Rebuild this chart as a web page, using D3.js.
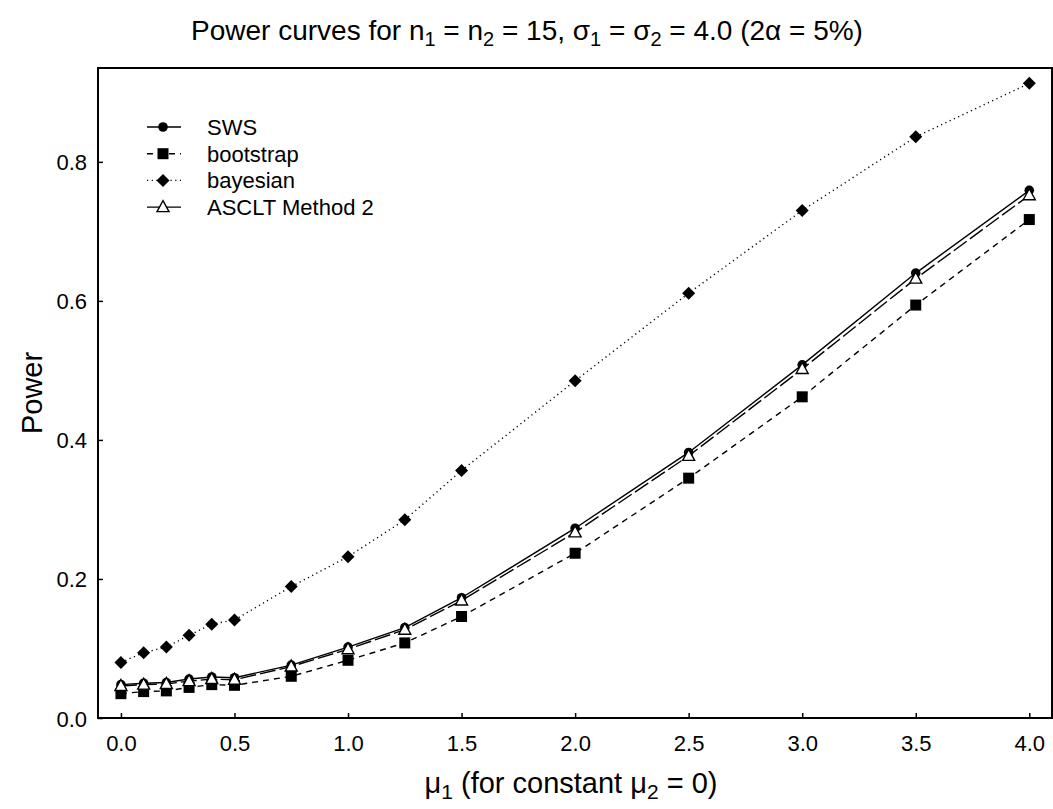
<!DOCTYPE html>
<html>
<head>
<meta charset="utf-8">
<script src="https://cdn.jsdelivr.net/npm/d3@7"></script>
<style>
body { margin: 0; background: #fff; }
svg { font-family: "Liberation Sans", Arial, sans-serif; display: block; }
</style>
</head>
<body>
<svg width="1053" height="809"></svg>
<script>
const mu1 = [0, 0.1, 0.2, 0.3, 0.4, 0.5, 0.75, 1.0, 1.25, 1.5, 2.0, 2.5, 3.0, 3.5, 4.0]
const sws = [0.048, 0.050, 0.051, 0.056, 0.059, 0.058, 0.076, 0.102, 0.130, 0.173, 0.273, 0.382, 0.508, 0.640, 0.759]
const bootstrap = [0.035, 0.038, 0.039, 0.044, 0.048, 0.047, 0.060, 0.083, 0.108, 0.146, 0.237, 0.345, 0.462, 0.594, 0.717]
const bayesian = [0.080, 0.094, 0.102, 0.119, 0.135, 0.141, 0.189, 0.232, 0.285, 0.356, 0.485, 0.611, 0.730, 0.836, 0.913]
const asclt = [0.046, 0.048, 0.049, 0.053, 0.056, 0.055, 0.074, 0.099, 0.127, 0.169, 0.267, 0.377, 0.502, 0.632, 0.752]
const xTicks = [0, 0.5, 1.0, 1.5, 2.0, 2.5, 3.0, 3.5, 4.0]
const yTicks = [0, 0.2, 0.4, 0.6, 0.8]

const series = [
	{name: 'SWS', values: sws, dash: null, marker: 'circle'},
	{name: 'bootstrap', values: bootstrap, dash: '6,5', marker: 'square'},
	{name: 'bayesian', values: bayesian, dash: '1.2,3.5', marker: 'diamond'},
	{name: 'ASCLT Method 2', values: asclt, dash: '16,4', marker: 'triangle'}
]

const svg = d3.select('svg')
const margin = {top: 68, right: 1, bottom: 91, left: 98}
const width = +svg.attr('width')
const height = +svg.attr('height')
const innerWidth = width - margin.left - margin.right
const innerHeight = height - margin.top - margin.bottom

const xScale = d3.scaleLinear()
	.domain([-0.101, 4.1])
	.range([0, innerWidth])

const yScale = d3.scaleLinear()
	.domain([0, 0.935])
	.range([innerHeight, 0])

const g = svg.append('g')
	.attr('transform', `translate(${margin.left}, ${margin.top})`)

// frame
g.append('rect')
	.attr('width', innerWidth)
	.attr('height', innerHeight)
	.attr('fill', 'none')
	.attr('stroke', '#000')
	.attr('stroke-width', 2)

const xAxis = d3.axisBottom(xScale)
	.tickValues(xTicks)
	.tickFormat(d3.format('.1f'))
	.tickSizeInner(-5)
	.tickSizeOuter(0)
	.tickPadding(17)

const yAxis = d3.axisLeft(yScale)
	.tickValues(yTicks)
	.tickFormat(d3.format('.1f'))
	.tickSizeInner(-5)
	.tickSizeOuter(0)
	.tickPadding(11)

const xg = g.append('g').call(xAxis)
	.attr('transform', `translate(0, ${innerHeight})`)
const yg = g.append('g').call(yAxis)

;[xg, yg].forEach(a => {
	a.select('.domain').remove()
	a.selectAll('line').attr('stroke', '#000').attr('stroke-width', 1.5)
	a.selectAll('text').attr('font-size', 22).attr('fill', '#000')
		.attr('font-family', '"Liberation Sans", Arial, sans-serif')
})
// fixed baselines instead of em offsets
xg.selectAll('text').attr('dy', null).attr('y', 33)
yg.selectAll('text').attr('dy', null).attr('y', 8)

const line = vals => d3.line()
	.x((d, i) => xScale(mu1[i]))
	.y(d => yScale(d))(vals)

series.forEach(s => {
	g.append('path')
		.attr('d', line(s.values))
		.attr('fill', 'none')
		.attr('stroke', '#000')
		.attr('stroke-width', 1.4)
		.attr('stroke-dasharray', s.dash)
})

const drawMarker = (sel, type, x, y) => {
	if (type === 'circle') {
		sel.append('circle').attr('cx', x).attr('cy', y).attr('r', 4.8).attr('fill', '#000')
	} else if (type === 'square') {
		sel.append('rect').attr('x', x - 5.5).attr('y', y - 5.5).attr('width', 11).attr('height', 11).attr('fill', '#000')
	} else if (type === 'diamond') {
		sel.append('path').attr('d', `M${x},${y - 6.5}L${x + 6.5},${y}L${x},${y + 6.5}L${x - 6.5},${y}Z`).attr('fill', '#000')
	} else {
		sel.append('path').attr('d', `M${x},${y - 6.5}L${x + 6},${y + 4.5}L${x - 6},${y + 4.5}Z`)
			.attr('fill', '#fff').attr('stroke', '#000').attr('stroke-width', 1.4)
	}
}

series.forEach(s => {
	const mg = g.append('g')
	s.values.forEach((v, i) => drawMarker(mg, s.marker, xScale(mu1[i]), yScale(v)))
})

// legend
const legend = svg.append('g')
	.attr('transform', 'translate(147, 127)')

series.forEach((s, i) => {
	const row = legend.append('g').attr('transform', `translate(0, ${i * 26.7})`)
	row.append('line')
		.attr('x1', 0).attr('x2', 34)
		.attr('stroke', '#000')
		.attr('stroke-width', 1.4)
		.attr('stroke-dasharray', s.dash)
	drawMarker(row, s.marker, 16, 0)
	row.append('text')
		.attr('x', 60)
		.attr('y', 8)
		.attr('font-size', 22)
		.text(s.name)
})

// text made of plain parts and subscripts: [text, isSub]
const richText = (t, parts, subSize, shift) => {
	let down = false
	parts.forEach(([s, isSub]) => {
		const ts = t.append('tspan').text(s)
		if (isSub && !down) { ts.attr('dy', shift).attr('font-size', subSize); down = true }
		else if (isSub) { ts.attr('font-size', subSize) }
		else if (down) { ts.attr('dy', -shift); down = false }
	})
}

const title = svg.append('text')
	.attr('x', 527)
	.attr('y', 40)
	.attr('text-anchor', 'middle')
	.attr('font-size', 28)

richText(title, [
	['Power curves for n', false], ['1', true], [' = n', false], ['2', true],
	[' = 15, σ', false], ['1', true], [' = σ', false], ['2', true],
	[' = 4.0 (2α = 5%)', false]
], 20, 6)

// axis titles
svg.append('text')
	.attr('transform', 'translate(42, 393) rotate(-90)')
	.attr('text-anchor', 'middle')
	.attr('font-size', 29)
	.text('Power')

const xt = svg.append('text')
	.attr('x', 571)
	.attr('y', 793)
	.attr('text-anchor', 'middle')
	.attr('font-size', 29)

richText(xt, [
	['μ', false], ['1', true], [' (for constant μ', false], ['2', true], [' = 0)', false]
], 21, 6)
</script>
</body>
</html>
